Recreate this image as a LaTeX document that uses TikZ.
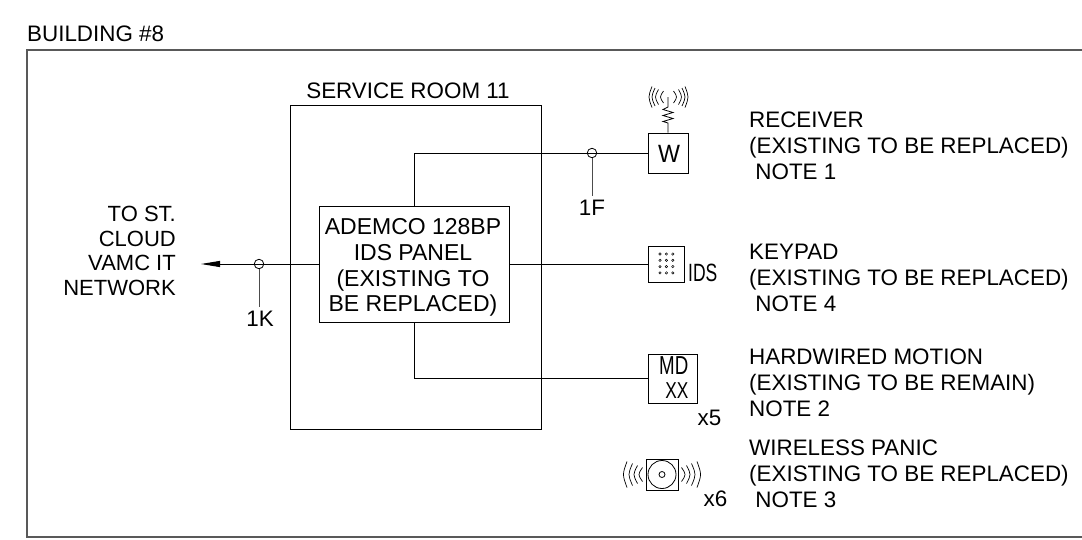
\documentclass[tikz,border=0pt]{standalone}
\usepackage{fontspec}
\usepackage{graphicx}
\setmainfont{Liberation Sans}
\usetikzlibrary{arrows.meta}
\tikzset{
 wire/.style={draw=black,line width=1pt},
 border/.style={draw=black!65,line width=1.4pt},
 devbox/.style={draw=black,line width=1pt,fill=white,inner sep=0pt},
 lbl/.style={inner sep=0pt,font=\fontsize{22.4}{25.8}\selectfont,text=black},
 arcline/.style={draw=black,line width=.7pt},
 leader/.style={draw=black!70,line width=1pt},
 ring/.style={circle,draw=black,line width=.8pt,minimum size=9.5pt,inner sep=0pt,fill=none},
}
\begin{document}
\begin{tikzpicture}[x=1pt,y=-1pt]
\useasboundingbox (0,0) rectangle (1082,539);
\fill[white] (0,0) rectangle (1082,539);
\draw[border] (1082,50) -- (27,50) -- (27,537) -- (1082,537);
\node[lbl,anchor=west] (bld) at (27,33.5) {BUILDING \#8};
\node[devbox,minimum width=251pt,minimum height=323.5pt] (room) at (416,267.5) {};
\node[lbl,anchor=center] (roomlbl) at (408,91) {SERVICE ROOM 11};
\node[devbox,minimum width=190pt,minimum height=115.5pt] (panel) at (414,264.5) {};
\node[lbl,align=center,anchor=center,font=\fontsize{23}{25.8}\selectfont] (paneltxt) at (413,267.5) {ADEMCO 128BP\\IDS PANEL\\(EXISTING TO\\BE REPLACED)};
\node[devbox,minimum width=40pt,minimum height=40pt] (w) at (668,153) {};
\node[lbl] (wt) at (669,154) {\scalebox{.93}[1]{\fontsize{25}{25}\selectfont W}};
\node[devbox,minimum width=36pt,minimum height=36pt] (kp) at (666,264) {};
\node[devbox,minimum width=49pt,minimum height=49pt] (md) at (672.5,378.5) {};
\node[lbl,anchor=east] (mdt) at (688.5,365.5) {\scalebox{.72}[1]{\fontsize{26}{26}\selectfont MD}};
\node[lbl,anchor=east] (xxt) at (688.5,391) {\scalebox{.75}[1]{\fontsize{23}{23}\selectfont XX}};
\node[devbox,minimum width=32pt,minimum height=31pt] (pn) at (662,474.5) {};
\node[circle,draw=black,line width=.8pt,minimum size=28pt,inner sep=0pt] (pnc) at (pn.center) {};
\node[circle,draw=black,line width=.8pt,minimum size=6pt,inner sep=0pt] (pnd) at (pn.center) {};
\coordinate (out) at (201,264);
\draw[wire,-{Triangle[length=19pt,width=6pt]}] (panel.west |- out) -- (out);
\node[ring] (r1k) at (259,264) {};
\coordinate (t1k) at (259,307);
\draw[leader] (r1k.south) -- (t1k);
\node[lbl] (l1k) at (260,319) {1K};
\coordinate (pt) at (414,153);
\draw[wire] (panel.north -| pt) -- (pt) -- (w.west);
\node[ring] (r1f) at (592,153) {};
\coordinate (t1f) at (592,196);
\draw[leader] (r1f.south) -- (t1f);
\node[lbl] (l1f) at (592,208) {1F};
\draw[wire] (panel.east |- kp.west) -- (kp.west);
\coordinate (pb) at (414,378.5);
\draw[wire] (panel.south) -- (pb) -- (md.west);
\node[lbl,anchor=west] (ids) at (688,272.5) {\scalebox{.7}[1]{\fontsize{25}{25}\selectfont IDS}};
\foreach \i in {0,1,2} \foreach \j in {0,1,2,3}
  \draw[line width=.5pt] (660+6.4*\i,254+6.3*\j) circle (1.2pt);
\node[lbl] (x5) at (709.5,418) {x5};
\node[lbl] (x6) at (715.5,499) {x6};
\coordinate (ant) at (668,107);
\coordinate (anttop) at (668,97);
\draw[wire,line width=.8pt] (w.north) -- (668,123) -- ++(-5,-1.5) -- ++(10,-3) -- ++(-10,-3) -- ++(10,-3) -- ++(-10,-3) -- (ant) -- (anttop);
\foreach \d/\h in {8/6,13/7.5,16.5/9,19.5/10.5}{
 \draw[arcline] (668.5+\d-3,97-\h) .. controls (668.5+\d+1,97) and (668.5+\d+1,97) .. (668.5+\d-3,97+\h);
 \draw[arcline] (668.5-\d+3,97-\h) .. controls (668.5-\d-1,97) and (668.5-\d-1,97) .. (668.5-\d+3,97+\h);
}
\foreach \d/\h in {23/7,28/9,33/11,38.5/13}{
 \draw[arcline] (662+\d-3.5,474.5-\h) .. controls (662+\d+1.2,474.5) and (662+\d+1.2,474.5) .. (662+\d-3.5,474.5+\h);
 \draw[arcline] (662-\d+3.5,474.5-\h) .. controls (662-\d-1.2,474.5) and (662-\d-1.2,474.5) .. (662-\d+3.5,474.5+\h);
}
\node[lbl,align=left,anchor=north west] (a) at (749,112) {RECEIVER\\(EXISTING TO BE REPLACED)\\\ NOTE 1};
\node[lbl,align=left,anchor=north west] (b) at (749,244) {KEYPAD\\(EXISTING TO BE REPLACED)\\\ NOTE 4};
\node[lbl,align=left,anchor=north west] (c) at (749,349) {HARDWIRED MOTION\\(EXISTING TO BE REMAIN)\\NOTE 2};
\node[lbl,align=left,anchor=north west] (d) at (749,440) {WIRELESS PANIC\\(EXISTING TO BE REPLACED)\\\ NOTE 3};
\node[lbl,align=right,anchor=east,font=\fontsize{22}{24.5}\selectfont] (e) at (176,251) {TO ST.\\CLOUD\\VAMC IT\\NETWORK};
\end{tikzpicture}
\end{document}
